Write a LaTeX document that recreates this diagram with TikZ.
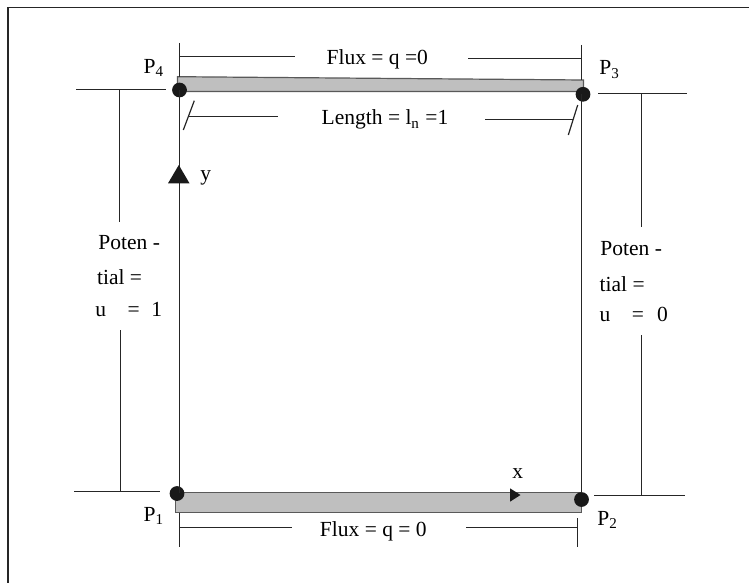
\documentclass[tikz,border=0pt]{standalone}
\usepackage{fontspec}
\setmainfont{Liberation Serif}
\newcommand{\lbfont}{\fontsize{10.75}{12}\selectfont}
\begin{document}
\begin{tikzpicture}[x=0.5pt,y=-0.5pt,
  lin/.style={line width=0.6pt, draw=black!85},
  border/.style={line width=0.75pt, draw=black!85},
  bar/.style={fill=gray!50, draw=black!65, line width=0.6pt},
  dot/.style={circle, fill=black!90, inner sep=0pt, minimum size=7.4pt},
  lbl/.style={font=\lbfont, inner sep=0pt, anchor=base west},
  clbl/.style={font=\lbfont, inner sep=0pt, anchor=base},
  tip/.style={fill=black!90}]
\path[use as bounding box] (0,0) rectangle (749,583);
% frame
\draw[border] (8,583) -- (8,7.5) -- (749,7.5);
% bars
\draw[bar] (177.5,76.7) -- (583.5,80) -- (583.5,91.5) -- (177.5,91.5) -- cycle;
\draw[bar] (175.5,492.5) -- (581.5,492.5) -- (581.5,512.5) -- (175.5,512.5) -- cycle;
% corner points
\node[dot] (P4) at (179.5,90) {};
\node[dot] (P3) at (583,94.3) {};
\node[dot] (P1) at (177,493.5) {};
\node[dot] (P2) at (581.5,499.5) {};
\coordinate (L4) at (179.5,90);
\coordinate (L1) at (179.5,493);
\coordinate (R3) at (581.5,94.3);
\coordinate (R2) at (581.5,493);
% square sides
\draw[lin] (L4) -- (L1);
\draw[lin] (R3) -- (R2);
% axis arrows
\fill[tip] (178.8,165) -- (189.5,183.3) -- (168,183.3) -- cycle;
\fill[tip] (520.5,495) -- (510,488.3) -- (510,501.7) -- cycle;
\node[lbl] (ylab) at (200,180) {y};
\node[lbl] (xlab) at (512,478.3) {x};
% point labels
\node[lbl] (t4) at (143.3,73.3) {P\textsubscript{4}};
\node[lbl] (t3) at (599,75) {P\textsubscript{3}};
\node[lbl] (t1) at (143.3,521.7) {P\textsubscript{1}};
\node[lbl] (t2) at (597,525) {P\textsubscript{2}};
% top flux dimension
\coordinate (tfa) at (179.5,43);
\coordinate (tfb) at (179.5,76.7);
\coordinate (tfc) at (581.5,45);
\coordinate (tfd) at (581.5,80);
\draw[lin] (tfa) -- (tfb);
\draw[lin] (tfc) -- (tfd);
\node[clbl] (tflux) at (377.3,64.3) {Flux = q =0};
\coordinate (tl1) at (179.5,56.5);
\coordinate (tl2) at (295,56.5);
\coordinate (tl3) at (468,58.5);
\coordinate (tl4) at (581.5,58.5);
\draw[lin] (tl1) -- (tl2);
\draw[lin] (tl3) -- (tl4);
% length dimension
\coordinate (ls1) at (194.3,100.7);
\coordinate (ls2) at (183.3,130);
\coordinate (ll1) at (188.3,116.5);
\coordinate (ll2) at (278,116.5);
\coordinate (lr1) at (485,119.5);
\coordinate (lr2) at (573.2,119.5);
\coordinate (rs1) at (577.7,105);
\coordinate (rs2) at (568.3,135);
\draw[lin] (ls1) -- (ls2);
\draw[lin] (ll1) -- (ll2);
\draw[lin] (lr1) -- (lr2);
\draw[lin] (rs1) -- (rs2);
\node[clbl] (len) at (385,125) {Length = l\textsubscript{n} =1};
% bottom flux dimension
\coordinate (bf1) at (179.5,512.5);
\coordinate (bf2) at (179.5,546.7);
\coordinate (bf3) at (577.5,518);
\coordinate (bf4) at (577.5,546.7);
\draw[lin] (bf1) -- (bf2);
\draw[lin] (bf3) -- (bf4);
\coordinate (bl1) at (179.5,527.5);
\coordinate (bl2) at (291.7,527.5);
\coordinate (bl3) at (466,527.5);
\coordinate (bl4) at (577.5,527.5);
\draw[lin] (bl1) -- (bl2);
\draw[lin] (bl3) -- (bl4);
\node[clbl] (bflux) at (373.3,536.7) {Flux = q = 0};
% left potential dimension
\coordinate (lh1) at (76,89.5);
\coordinate (lh2) at (165.7,89.5);
\coordinate (lv1) at (119.5,89.5);
\coordinate (lv2) at (119.5,221.7);
\coordinate (lv3) at (120.5,330);
\coordinate (lv4) at (120.5,491.5);
\coordinate (lh3) at (74,491.5);
\coordinate (lh4) at (160,491.5);
\draw[lin] (lh1) -- (lh2);
\draw[lin] (lv1) -- (lv2);
\draw[lin] (lv3) -- (lv4);
\draw[lin] (lh3) -- (lh4);
\node[lbl] (lp1) at (98,249.3) {Poten -};
\node[lbl] (lp2) at (96.7,284) {tial =};
\node[lbl] (lp3) at (95,316) {u\hspace{10.7pt}=\hspace{5.8pt}1};
% right potential dimension
\coordinate (rh1) at (598,93.5);
\coordinate (rh2) at (686.7,93.5);
\coordinate (rv1) at (641.5,93.5);
\coordinate (rv2) at (641.5,226.7);
\coordinate (rv3) at (641.5,335);
\coordinate (rv4) at (641.5,495.5);
\coordinate (rh3) at (594.3,495.5);
\coordinate (rh4) at (685,495.5);
\draw[lin] (rh1) -- (rh2);
\draw[lin] (rv1) -- (rv2);
\draw[lin] (rv3) -- (rv4);
\draw[lin] (rh3) -- (rh4);
\node[lbl] (rp1) at (600,255) {Poten -};
\node[lbl] (rp2) at (599.3,291.7) {tial =};
\node[lbl] (rp3) at (599.3,321.7) {u\hspace{10.7pt}=\hspace{6.6pt}0};
\end{tikzpicture}
\end{document}
